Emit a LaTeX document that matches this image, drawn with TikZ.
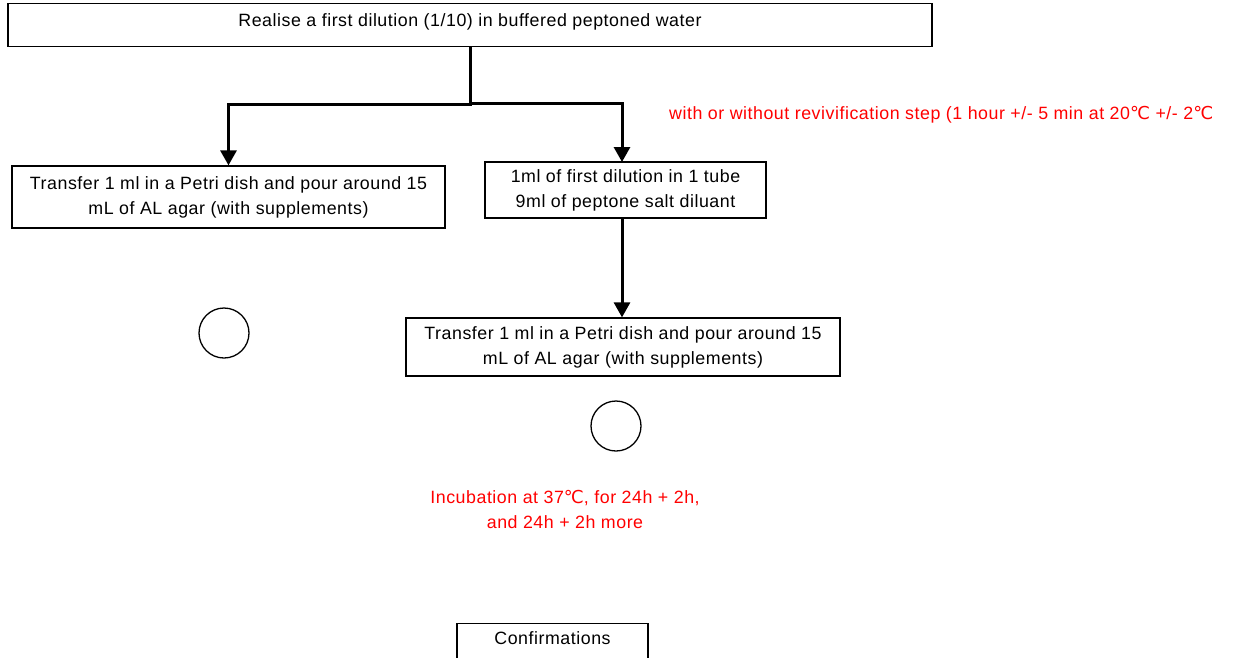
\documentclass[tikz,border=0pt]{standalone}
\usepackage{fontspec}
\setmainfont{Liberation Sans}[LetterSpace=3]
\newfontfamily\symfont{DejaVu Sans}
\usetikzlibrary{arrows.meta}
\newcommand{\degC}{{\symfont ℃}}
\begin{document}
\begin{tikzpicture}[x=1pt,y=-1pt,
  box/.style={draw, line width=1.3pt, align=center, inner sep=0pt, font=\fontsize{17.8}{25}\selectfont},
  conn/.style={line width=3pt, -{Triangle[width=16pt,length=15pt]}},
  dish/.style={draw, line width=1.3pt, circle, minimum size=50pt, inner sep=0pt},
  note/.style={text=red, align=center, font=\fontsize{17.8}{25}\selectfont, inner sep=0pt}]
\useasboundingbox (0,0) rectangle (1236,657);
\clip (0,0) rectangle (1236,657);
\node[box, anchor=north, minimum width=924pt, text height=21pt, text depth=18pt, inner ysep=2pt] (top) at (470,3) {Realise a first dilution (1/10) in buffered peptoned water};
\node[box, minimum width=433pt, minimum height=62pt] (left) at (228.5,197) {Transfer 1 ml in a Petri dish and pour around 15\\mL of AL agar (with supplements)};
\node[box, minimum width=281pt, minimum height=56pt] (mid) at (625.5,190) {1ml of first dilution in 1 tube\\9ml of peptone salt diluant};
\node[box, minimum width=434pt, minimum height=58pt] (bot) at (623,347) {Transfer 1 ml in a Petri dish and pour around 15\\mL of AL agar (with supplements)};
\node[dish] (c1) at (224,333) {};
\node[dish] (c2) at (616,426) {};
\node[note, anchor=west] (rev) at (669,115) {with or without revivification step (1 hour +/- 5 min at 20\degC{} +/- 2\degC};
\node[note] (inc) at (565,509.5) {Incubation at 37\degC, for 24h + 2h,\\and 24h + 2h more};
\node[box, anchor=north, minimum width=191pt, text height=21pt, text depth=40pt, inner ysep=0pt] (conf) at (552.5,623) {Confirmations};
\draw[conn] (top.south) -- (470,104) -| (left.north);
\draw[conn] (top.south) -- (470,103) -| (622,162);
\draw[conn] (mid.south -| 622,0) -- (bot.north -| 622,0);
\end{tikzpicture}
\end{document}
